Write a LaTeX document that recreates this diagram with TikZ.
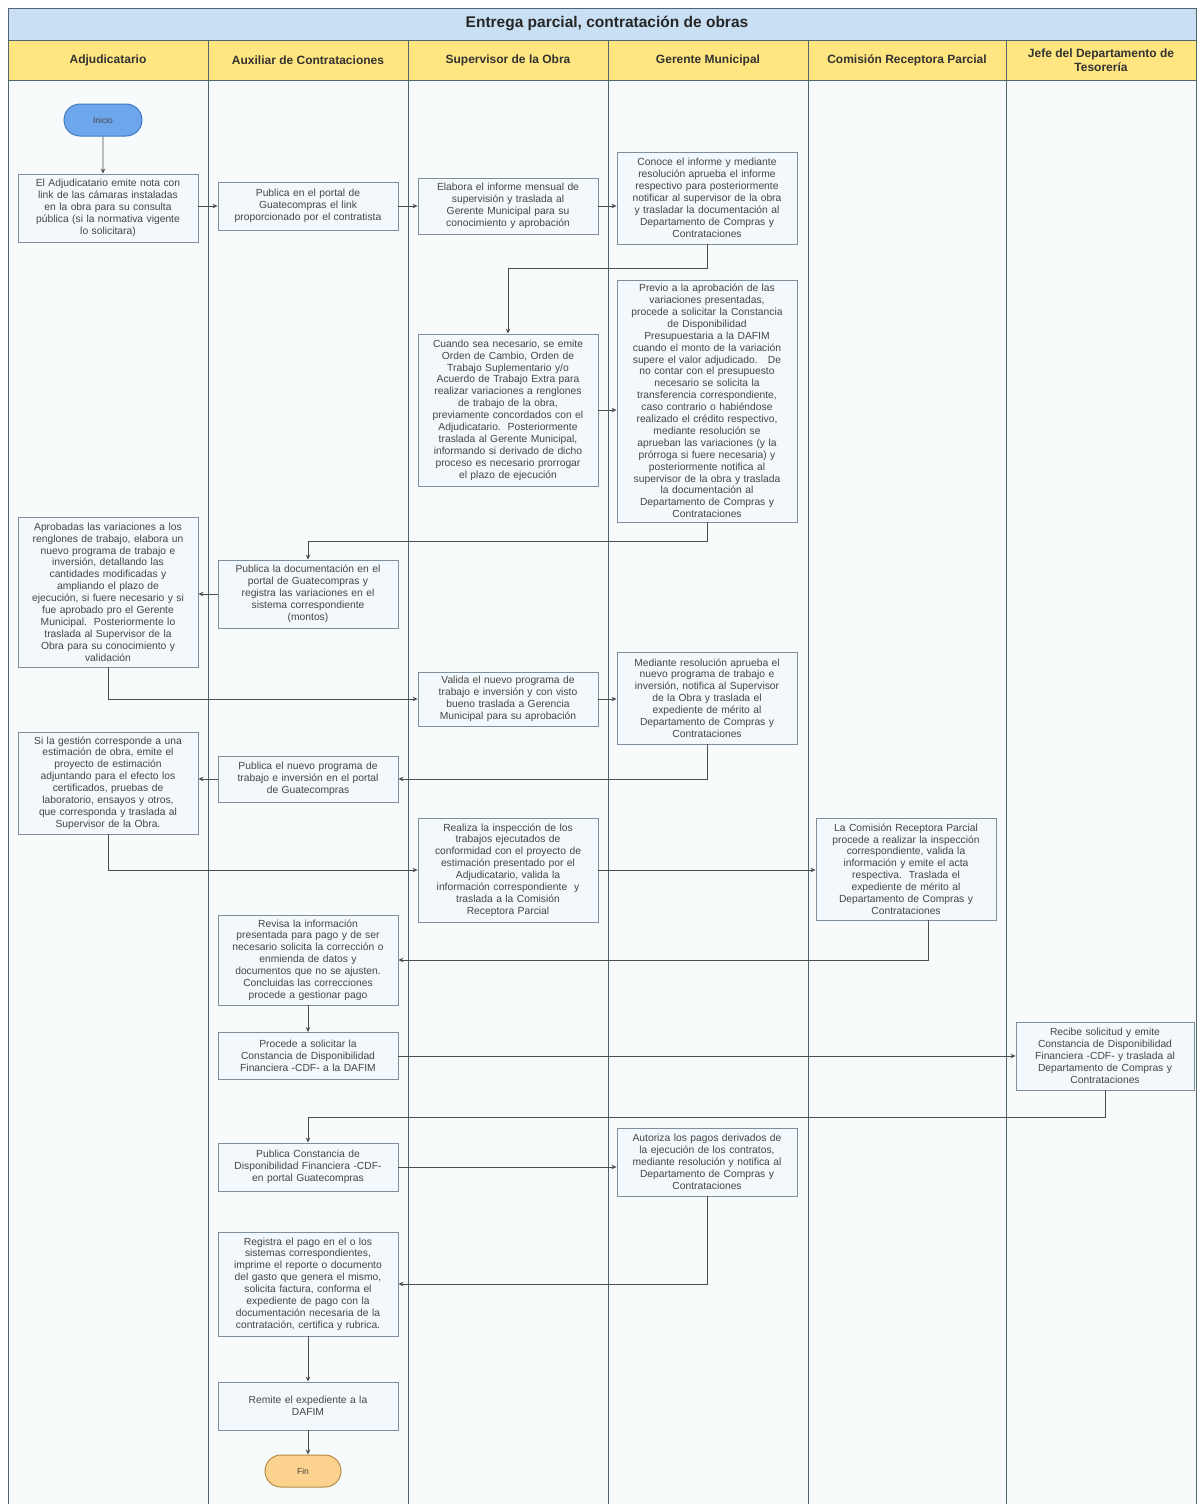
\documentclass[tikz,border=0pt]{standalone}
\usepackage{fontspec}
\setmainfont{Liberation Sans}
\usetikzlibrary{shapes.misc,arrows.meta,calc}
\definecolor{lanefill}{HTML}{F7FBFC}
\definecolor{laneline}{HTML}{52646E}
\definecolor{titlefill}{HTML}{C9DFF3}
\definecolor{headfill}{HTML}{FFE680}
\definecolor{boxfill}{HTML}{F2F8FC}
\definecolor{boxline}{HTML}{7E8E9A}
\definecolor{boxtext}{HTML}{454545}
\definecolor{startfill}{HTML}{6EA6EE}
\definecolor{startline}{HTML}{3F78C4}
\definecolor{endfill}{HTML}{FCD38E}
\definecolor{endline}{HTML}{B58A45}
\definecolor{flow}{HTML}{4D4D4D}
\tikzset{
  proc/.style={draw=boxline, line width=0.9pt, fill=boxfill, rectangle,
    minimum width=180pt, text width=178pt, inner sep=1pt, align=center,
    text=boxtext, font=\fontsize{10.3}{11.9}\selectfont},
  terminal/.style={rounded rectangle, line width=1pt, minimum width=78pt,
    minimum height=32pt, inner sep=0pt, font=\fontsize{8.5}{10}\selectfont, text=boxtext},
  lanehead/.style={font=\bfseries\fontsize{12}{13.5}\selectfont, text=black!80, align=center},
  conn/.style={draw=flow, line width=0.8pt, -{Stealth[length=5pt,width=4.5pt]}}
}
\begin{document}
\begin{tikzpicture}[x=1pt,y=-1pt]
\useasboundingbox (0,0) rectangle (1197,1504);
\fill[white] (0,0) rectangle (1197,1504);

% swimlane frame
\fill[lanefill] (8,80) rectangle (1196,1504);
\draw[laneline, line width=0.9pt, fill=titlefill] (8,8) rectangle (1196,40);
\node[font=\bfseries\fontsize{15.5}{17}\selectfont, text=black!85] (title) at (607,23) {Entrega parcial, contratación de obras};
\foreach \xa/\xb in {8/208,208/408,408/608,608/808,808/1006,1006/1196}{
  \draw[laneline, line width=0.9pt, fill=headfill] (\xa,40) rectangle (\xb,80);
}
\foreach \xl in {8,208,408,608,808,1006,1196}{
  \draw[laneline, line width=1pt] (\xl,80) -- (\xl,1504);
}
\node[lanehead] (h1) at (108,60) {Adjudicatario};
\node[lanehead] (h2) at (308,60) {Auxiliar de Contrataciones};
\node[lanehead] (h3) at (508,60) {Supervisor de la Obra};
\node[lanehead] (h4) at (708,60) {Gerente Municipal};
\node[lanehead] (h5) at (907,60) {Comisión Receptora Parcial};
\node[lanehead] (h6) at (1101,60) {Jefe del Departamento de\\Tesorería};

% start and end
\node[terminal, fill=startfill, draw=startline] (inicio) at (103,120) {Inicio};
\node[terminal, fill=endfill, draw=endline, minimum width=76pt] (fin) at (303,1471) {Fin};

% Adjudicatario
\node[proc, minimum height=68pt] (a1) at (108,208) {El Adjudicatario emite nota con\\link de las cámaras instaladas\\en la obra para su consulta\\pública (si la normativa vigente\\lo solicitara)};
\node[proc, minimum height=150pt] (a2) at (108,592) {Aprobadas las variaciones a los\\renglones de trabajo, elabora un\\nuevo programa de trabajo e\\inversión, detallando las\\cantidades modificadas y\\ampliando el plazo de\\ejecución, si fuere necesario y si\\fue aprobado pro el Gerente\\Municipal.\ \ Posteriormente lo\\traslada al Supervisor de la\\Obra para su conocimiento y\\validación};
\node[proc, minimum height=102pt] (a3) at (108,783) {Si la gestión corresponde a una\\estimación de obra, emite el\\proyecto de estimación\\adjuntando para el efecto los\\certificados, pruebas de\\laboratorio, ensayos y otros,\\que corresponda y traslada al\\Supervisor de la Obra.};

% Auxiliar de Contrataciones
\node[proc, minimum height=48pt] (b1) at (308,206) {Publica en el portal de\\Guatecompras el link\\proporcionado por el contratista};
\node[proc, minimum height=68pt] (b2) at (308,594) {Publica la documentación en el\\portal de Guatecompras y\\registra las variaciones en el\\sistema correspondiente\\(montos)};
\node[proc, minimum height=46pt] (b3) at (308,779) {Publica el nuevo programa de\\trabajo e inversión en el portal\\de Guatecompras};
\node[proc, minimum height=90pt] (b4) at (308,960) {Revisa la información\\presentada para pago y de ser\\necesario solicita la corrección o\\enmienda de datos y\\documentos que no se ajusten.\\Concluidas las correcciones\\procede a gestionar pago};
\node[proc, minimum height=47pt] (b5) at (308,1056) {Procede a solicitar la\\Constancia de Disponibilidad\\Financiera -CDF- a la DAFIM};
\node[proc, minimum height=48pt] (b6) at (308,1167) {Publica Constancia de\\Disponibilidad Financiera -CDF-\\en portal Guatecompras};
\node[proc, minimum height=104pt] (b7) at (308,1284) {Registra el pago en el o los\\sistemas correspondientes,\\imprime el reporte o documento\\del gasto que genera el mismo,\\solicita factura, conforma el\\expediente de pago con la\\documentación necesaria de la\\contratación, certifica y rubrica.};
\node[proc, minimum height=48pt] (b8) at (308,1406) {Remite el expediente a la\\DAFIM};

% Supervisor de la Obra
\node[proc, minimum height=56pt] (c1) at (508,206) {Elabora el informe mensual de\\supervisión y traslada al\\Gerente Municipal para su\\conocimiento y aprobación};
\node[proc, minimum height=152pt] (c2) at (508,410) {Cuando sea necesario, se emite\\Orden de Cambio, Orden de\\Trabajo Suplementario y/o\\Acuerdo de Trabajo Extra para\\realizar variaciones a renglones\\de trabajo de la obra,\\previamente concordados con el\\Adjudicatario.\ \ Posteriormente\\traslada al Gerente Municipal,\\informando si derivado de dicho\\proceso es necesario prorrogar\\el plazo de ejecución};
\node[proc, minimum height=54pt] (c3) at (508,699) {Valida el nuevo programa de\\trabajo e inversión y con visto\\bueno traslada a Gerencia\\Municipal para su aprobación};
\node[proc, minimum height=104pt] (c4) at (508,870) {Realiza la inspección de los\\trabajos ejecutados de\\conformidad con el proyecto de\\estimación presentado por el\\Adjudicatario, valida la\\información correspondiente\ \ y\\traslada a la Comisión\\Receptora Parcial};

% Gerente Municipal
\node[proc, minimum height=92pt] (d1) at (707,198) {Conoce el informe y mediante\\resolución aprueba el informe\\respectivo para posteriormente\\notificar al supervisor de la obra\\y trasladar la documentación al\\Departamento de Compras y\\Contrataciones};
\node[proc, minimum height=242pt] (d2) at (707,401) {Previo a la aprobación de las\\variaciones presentadas,\\procede a solicitar la Constancia\\de Disponibilidad\\Presupuestaria a la DAFIM\\cuando el monto de la variación\\supere el valor adjudicado.\ \ \ De\\no contar con el presupuesto\\necesario se solicita la\\transferencia correspondiente,\\caso contrario o habiéndose\\realizado el crédito respectivo,\\mediante resolución se\\aprueban las variaciones (y la\\prórroga si fuere necesaria) y\\posteriormente notifica al\\supervisor de la obra y traslada\\la documentación al\\Departamento de Compras y\\Contrataciones};
\node[proc, minimum height=92pt] (d3) at (707,698) {Mediante resolución aprueba el\\nuevo programa de trabajo e\\inversión, notifica al Supervisor\\de la Obra y traslada el\\expediente de mérito al\\Departamento de Compras y\\Contrataciones};
\node[proc, minimum height=68pt] (d4) at (707,1162) {Autoriza los pagos derivados de\\la ejecución de los contratos,\\mediante resolución y notifica al\\Departamento de Compras y\\Contrataciones};

% Comision Receptora Parcial
\node[proc, minimum height=102pt] (e1) at (906,869) {La Comisión Receptora Parcial\\procede a realizar la inspección\\correspondiente, valida la\\información y emite el acta\\respectiva.\ \ Traslada el\\expediente de mérito al\\Departamento de Compras y\\Contrataciones};

% Jefe del Departamento de Tesoreria
\node[proc, minimum height=68pt, minimum width=178pt, text width=176pt] (f1) at (1105,1056) {Recibe solicitud y emite\\Constancia de Disponibilidad\\Financiera -CDF- y traslada al\\Departamento de Compras y\\Contrataciones};

% flow
\draw[conn] (inicio) -- (inicio |- a1.north);
\draw[conn] (a1.east |- b1.west) -- (b1.west);
\draw[conn] (b1.east) -- (b1.east -| c1.west);
\draw[conn] (c1.east) -- (c1.east -| d1.west);
\draw[conn] (d1.south) -- ++(0,24) -| (c2.north);
\draw[conn] (c2.east) -- (c2.east -| d2.west);
\draw[conn] (d2.south) -- ++(0,19) -| (b2.north);
\draw[conn] (b2.west) -- (b2.west -| a2.east);
\draw[conn] (a2.south) |- (c3.west);
\draw[conn] (c3.east) -- (c3.east -| d3.west);
\draw[conn] (d3.south) |- (b3.east);
\draw[conn] (b3.west) -- (b3.west -| a3.east);
\draw[conn] (a3.south) |- (c4.west);
\draw[conn] (c4.east) -- (c4.east -| e1.west);
\draw[conn] ([xshift=22pt]e1.south) |- (b4.east);
\draw[conn] (b4.south) -- (b5.north);
\draw[conn] (b5.east) -- (b5.east -| f1.west);
\draw[conn] (f1.south) -- ++(0,27) -| (b6.north);
\draw[conn] (b6.east) -- (b6.east -| d4.west);
\draw[conn] (d4.south) |- (b7.east);
\draw[conn] (b7.south) -- (b8.north);
\draw[conn] (b8.south) -- (b8.south |- fin.north);
\end{tikzpicture}
\end{document}
